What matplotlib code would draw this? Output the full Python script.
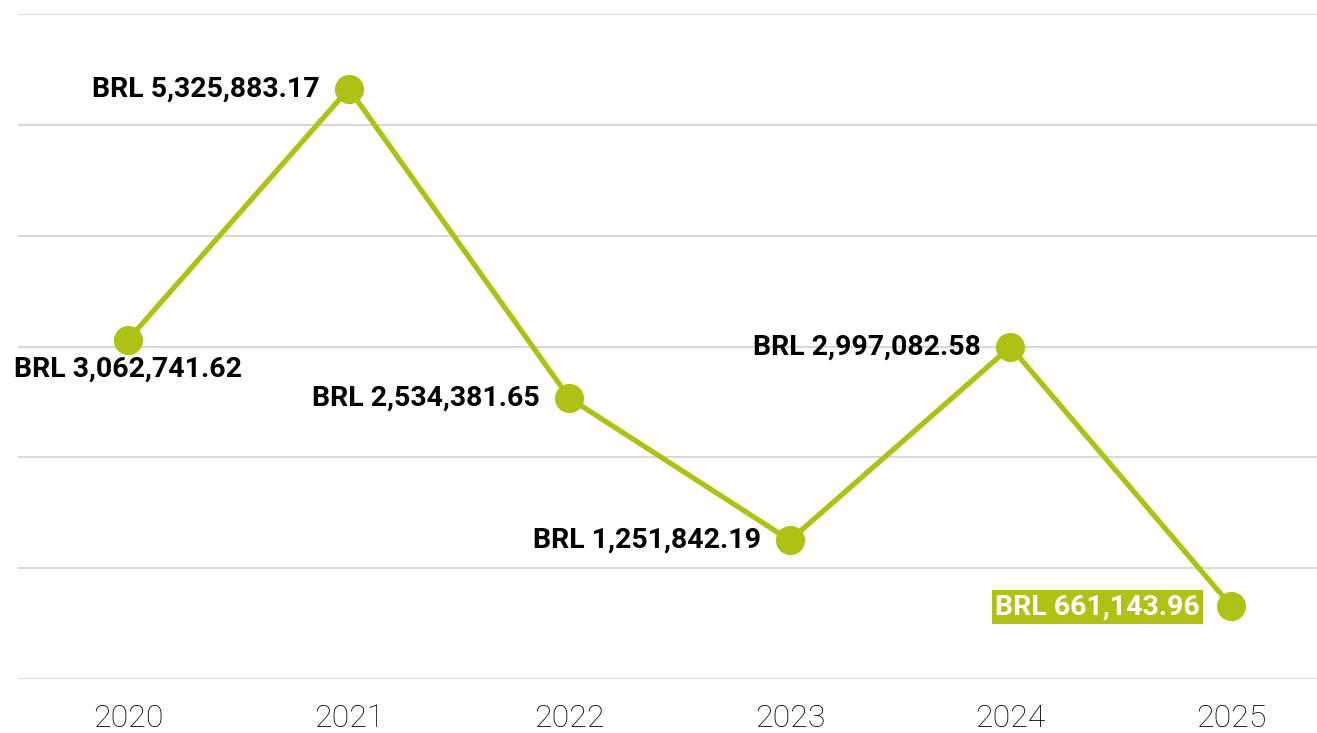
import matplotlib.pyplot as plt

# --- Data ---
years = ['2020', '2021', '2022', '2023', '2024', '2025']
values = [3062741.62, 5325883.17, 2534381.65, 1251842.19, 2997082.58, 661143.96]
# where each label sits relative to its point
label_pos = ['below', 'left', 'left', 'left', 'left', 'left']

line_color = '#aec216'
grid_color = '#d9d9d9'

plt.rcParams['font.family'] = ['Roboto', 'DejaVu Sans']

fig = plt.figure(figsize=(13.17, 7.33), dpi=100)
ax = fig.add_axes([18 / 1317, 1 - 679 / 733, 1 - 18 / 1317, (679 - 14) / 733])

x = list(range(len(years)))
ax.plot(x, values, color=line_color, linewidth=3.8, marker='o', markersize=20,
        zorder=3, clip_on=False)

ax.set_xlim(-0.5, 5.39)
ax.set_ylim(0, 6e6)
ax.set_yticks([i * 1e6 for i in range(7)])
ax.yaxis.grid(True, color=grid_color, linewidth=1.5)
ax.set_axisbelow(True)
ax.tick_params(axis='y', left=False, labelleft=False)
ax.tick_params(axis='x', length=0, pad=18)
ax.set_xticks(x)
ax.set_xticklabels(years, fontsize=23, fontweight='light', color='black')
for s in ax.spines.values():
    s.set_visible(False)

lab_fs = 20.5
for i, (v, pos) in enumerate(zip(values, label_pos)):
    txt = f'BRL {v:,.2f}'
    if pos == 'below':
        ax.annotate(txt, (i, v), xytext=(0, -21), textcoords='offset points',
                    ha='center', va='center', fontsize=lab_fs, fontweight='bold',
                    color='black')
    elif i == len(values) - 1:
        ax.annotate(txt, (i, v), xytext=(-22.5, -1), textcoords='offset points',
                    ha='right', va='center', fontsize=lab_fs, fontweight='bold',
                    color='white',
                    bbox=dict(facecolor=line_color, edgecolor='none', pad=2.5))
    else:
        ax.annotate(txt, (i, v), xytext=(-21, 0), textcoords='offset points',
                    ha='right', va='center', fontsize=lab_fs, fontweight='bold',
                    color='black')

fig.savefig('out.png', dpi=100)
